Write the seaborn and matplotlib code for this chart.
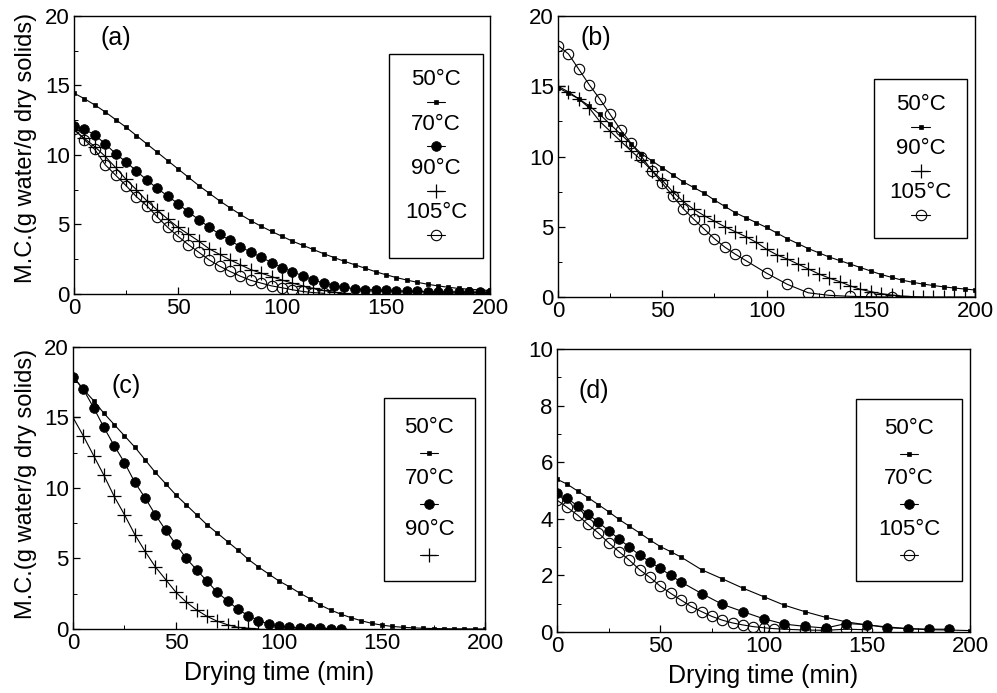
import numpy as np
import pandas as pd
import matplotlib
matplotlib.use("Agg")
import matplotlib.pyplot as plt
from matplotlib.patches import Rectangle
from matplotlib.ticker import MultipleLocator
import seaborn as sns

# ---- data (moisture content, g water / g dry solids) ----
t5_200 = list(range(0, 205, 5))

a_t50 = t5_200
a_50 = [14.45, 14.05, 13.6, 13.1, 12.55, 12.0, 11.4, 10.8, 10.2, 9.6, 9.0, 8.4, 7.8, 7.25,
        6.7, 6.2, 5.72, 5.27, 4.87, 4.5, 4.15, 3.8, 3.5, 3.2, 2.9, 2.62, 2.35, 2.1,
        1.85, 1.6, 1.38, 1.18, 1.0, 0.84, 0.7, 0.58, 0.48, 0.4, 0.34, 0.29, 0.25]
a_t70 = t5_200
a_70 = [12.1, 11.85, 11.45, 10.8, 10.1, 9.5, 8.85, 8.2, 7.6, 7.05, 6.5, 5.9, 5.35, 4.8,
        4.3, 3.85, 3.4, 3.0, 2.65, 2.25, 1.9, 1.6, 1.3, 1.02, 0.78, 0.6, 0.47, 0.38,
        0.32, 0.28, 0.25, 0.22, 0.2, 0.18, 0.17, 0.15, 0.14, 0.13, 0.12, 0.11, 0.1]
a_t90 = list(range(0, 135, 5))
a_90 = [11.8, 11.2, 10.6, 9.9, 9.1, 8.25, 7.5, 6.7, 6.05, 5.4, 4.8, 4.3, 3.8, 3.25,
        2.85, 2.45, 2.1, 1.75, 1.5, 1.25, 1.0, 0.78, 0.58, 0.4, 0.25, 0.12, 0.05]
a_t105 = list(range(0, 125, 5))
a_105 = [11.9, 11.1, 10.4, 9.3, 8.55, 7.8, 7.0, 6.35, 5.55, 4.8, 4.15, 3.55, 3.0, 2.45,
         2.0, 1.62, 1.28, 0.98, 0.78, 0.58, 0.45, 0.3, 0.18, 0.1, 0.05]

b_t50 = t5_200
b_50 = [14.9, 14.5, 14.1, 13.6, 13.0, 12.3, 11.6, 10.9, 10.2, 9.7, 9.2, 8.7, 8.2, 7.8,
        7.4, 6.9, 6.45, 6.0, 5.65, 5.3, 4.95, 4.55, 4.15, 3.8, 3.45, 3.15, 2.85, 2.6,
        2.35, 2.1, 1.85, 1.6, 1.4, 1.2, 1.05, 0.92, 0.82, 0.72, 0.64, 0.57, 0.5]
b_t90 = t5_200
b_90 = [15.0, 14.6, 14.1, 13.45, 12.5, 11.8, 11.1, 10.4, 9.75, 9.0, 8.3, 7.5, 6.8, 6.25,
        5.8, 5.4, 5.0, 4.65, 4.3, 3.9, 3.4, 3.0, 2.7, 2.35, 2.0, 1.65, 1.35, 1.1,
        0.8, 0.55, 0.38, 0.24, 0.14, 0.07, 0.03, 0.01, 0.0, 0.0, 0.0, 0.0, 0.0]
b_t105 = list(range(0, 95, 5)) + [100, 110, 120, 130, 140, 150, 160]
b_105 = [17.9, 17.3, 16.2, 15.1, 14.1, 13.0, 11.9, 10.95, 10.0, 9.0, 8.1, 7.2, 6.3, 5.55,
         4.85, 4.15, 3.55, 3.05, 2.6, 1.7, 0.9, 0.3, 0.12, 0.05, 0.02, 0.0]

c_t50 = t5_200
c_50 = [17.9, 17.0, 16.2, 15.3, 14.5, 13.7, 12.9, 12.0, 11.1, 10.3, 9.5, 8.8, 8.1, 7.4,
        6.8, 6.2, 5.6, 4.95, 4.4, 3.9, 3.4, 3.0, 2.55, 2.15, 1.7, 1.35, 1.05, 0.8,
        0.58, 0.4, 0.27, 0.18, 0.12, 0.08, 0.05, 0.03, 0.02, 0.01, 0.01, 0.0, 0.0]
c_t70 = list(range(0, 135, 5))
c_70 = [17.9, 17.0, 15.7, 14.3, 13.0, 11.8, 10.4, 9.3, 8.1, 7.0, 6.0, 5.0, 4.2, 3.4,
        2.6, 2.0, 1.4, 0.95, 0.6, 0.35, 0.2, 0.12, 0.08, 0.05, 0.04, 0.03, 0.03]
c_t90 = list(range(0, 95, 5))
c_90 = [15.0, 13.7, 12.3, 10.9, 9.4, 8.1, 6.7, 5.5, 4.4, 3.5, 2.6, 1.9, 1.35, 0.9,
        0.55, 0.3, 0.12, 0.05, 0.0]

d_t50 = list(range(0, 65, 5)) + list(range(70, 210, 10))
d_50 = [5.4, 5.22, 4.98, 4.75, 4.5, 4.25, 3.98, 3.74, 3.5, 3.25, 3.02, 2.84, 2.65,
        2.2, 1.88, 1.55, 1.25, 0.95, 0.72, 0.52, 0.36, 0.25, 0.18, 0.12, 0.08, 0.07, 0.05]
d_t70 = list(range(0, 65, 5)) + list(range(70, 200, 10))
d_70 = [4.9, 4.72, 4.45, 4.17, 3.88, 3.58, 3.29, 3.0, 2.72, 2.48, 2.25, 2.0, 1.77,
        1.36, 0.98, 0.72, 0.47, 0.28, 0.2, 0.14, 0.3, 0.26, 0.15, 0.12, 0.1, 0.1]
d_t105 = list(range(0, 115, 5)) + [120, 130, 140, 150]
d_105 = [4.66, 4.4, 4.13, 3.8, 3.5, 3.15, 2.84, 2.54, 2.2, 1.93, 1.62, 1.37, 1.13, 0.9,
         0.72, 0.55, 0.42, 0.32, 0.25, 0.19, 0.15, 0.12, 0.1, 0.07, 0.06, 0.1, 0.08]

panels = {
    "(a)": [("50°C", a_t50, a_50), ("70°C", a_t70, a_70), ("90°C", a_t90, a_90), ("105°C", a_t105, a_105)],
    "(b)": [("50°C", b_t50, b_50), ("90°C", b_t90, b_90), ("105°C", b_t105, b_105)],
    "(c)": [("50°C", c_t50, c_50), ("70°C", c_t70, c_70), ("90°C", c_t90, c_90)],
    "(d)": [("50°C", d_t50, d_50), ("70°C", d_t70, d_70), ("105°C", d_t105, d_105)],
}
y_max = {"(a)": 20, "(b)": 20, "(c)": 20, "(d)": 10}

# ---- styles ----
sns.set_theme(style="ticks")
plt.rcParams["font.family"] = ["Liberation Sans", "DejaVu Sans"]

marker_style = {
    "50°C": dict(marker="s", markersize=3, markerfacecolor="black", markeredgewidth=0.5),
    "70°C": dict(marker="o", markersize=7, markerfacecolor="black", markeredgewidth=0.5),
    "90°C": dict(marker="+", markersize=10, markeredgewidth=0.9),
    "105°C": dict(marker="o", markersize=7.5, markerfacecolor="none", markeredgewidth=0.8),
}

axes_pos = {
    "(a)": [0.0742, 0.5758, 0.4173, 0.4011],
    "(b)": [0.5597, 0.5714, 0.4183, 0.4055],
    "(c)": [0.0732, 0.0924, 0.4133, 0.4069],
    "(d)": [0.5587, 0.0880, 0.4143, 0.4084],
}
# legend boxes in axes fraction: x0, x1, y0, y1
legend_box = {
    "(a)": (0.757, 0.983, 0.129, 0.863),
    "(b)": (0.758, 0.981, 0.210, 0.776),
    "(c)": (0.755, 0.975, 0.170, 0.819),
    "(d)": (0.724, 0.980, 0.180, 0.823),
}
tag_pos = {"(a)": (0.10, 0.92), "(b)": (0.09, 0.92), "(c)": (0.13, 0.86), "(d)": (0.09, 0.85)}

fig = plt.figure(figsize=(9.97, 6.93), dpi=100)

for name, series in panels.items():
    ax = fig.add_axes(axes_pos[name])
    for label, t, mc in series:
        df = pd.DataFrame({"time": t, "mc": mc})
        sns.lineplot(data=df, x="time", y="mc", ax=ax, color="black", lw=0.8,
                     markeredgecolor="black", **marker_style[label])

    ym = y_max[name]
    ax.set_xlim(0, 200)
    ax.set_ylim(0, ym)
    ax.xaxis.set_major_locator(MultipleLocator(50))
    ax.xaxis.set_minor_locator(MultipleLocator(25))
    ax.yaxis.set_major_locator(MultipleLocator(ym / 4 if ym == 20 else 2))
    ax.yaxis.set_minor_locator(MultipleLocator(ym / 8 if ym == 20 else 1))
    ax.tick_params(which="both", direction="in", color="black", labelsize=16,
                   labelcolor="black", pad=3)
    ax.tick_params(which="major", length=5, width=0.9)
    ax.tick_params(which="minor", length=3, width=0.7)
    for sp in ax.spines.values():
        sp.set_visible(True)
        sp.set_color("black")
        sp.set_linewidth(1.0)
    ax.set_xlabel("")
    ax.set_ylabel("")

    ax.text(*tag_pos[name], name, transform=ax.transAxes, fontsize=18,
            ha="center", va="center", color="black")

    # hand-made legend: label on top, sample below
    x0, x1, y0, y1 = legend_box[name]
    ax.add_patch(Rectangle((x0, y0), x1 - x0, y1 - y0, transform=ax.transAxes,
                           facecolor="white", edgecolor="black", lw=1.0, zorder=5))
    n = len(series)
    pitch = (y1 - y0) / (n + 0.6)
    xc = (x0 + x1) / 2
    for i, (label, _, _) in enumerate(series):
        yl = y1 - 0.58 * pitch - i * pitch
        ymk = yl - 0.5 * pitch
        ax.text(xc, yl, label, transform=ax.transAxes, fontsize=16,
                ha="center", va="center", color="black", zorder=6)
        ax.plot([xc - 0.022, xc + 0.022], [ymk, ymk], transform=ax.transAxes,
                color="black", lw=0.8, zorder=6, clip_on=False)
        ax.plot([xc], [ymk], transform=ax.transAxes, color="black", zorder=7,
                clip_on=False, markeredgecolor="black", **marker_style[label])

    if name in ("(c)", "(d)"):
        ax.set_xlabel("Drying time (min)", fontsize=18, color="black", labelpad=5)

fig.text(0.026, 0.786, "M.C.(g water/g dry solids)", rotation=90, fontsize=17,
         ha="center", va="center", color="black")
fig.text(0.026, 0.302, "M.C.(g water/g dry solids)", rotation=90, fontsize=17,
         ha="center", va="center", color="black")

fig.savefig("out.png", dpi=100)
